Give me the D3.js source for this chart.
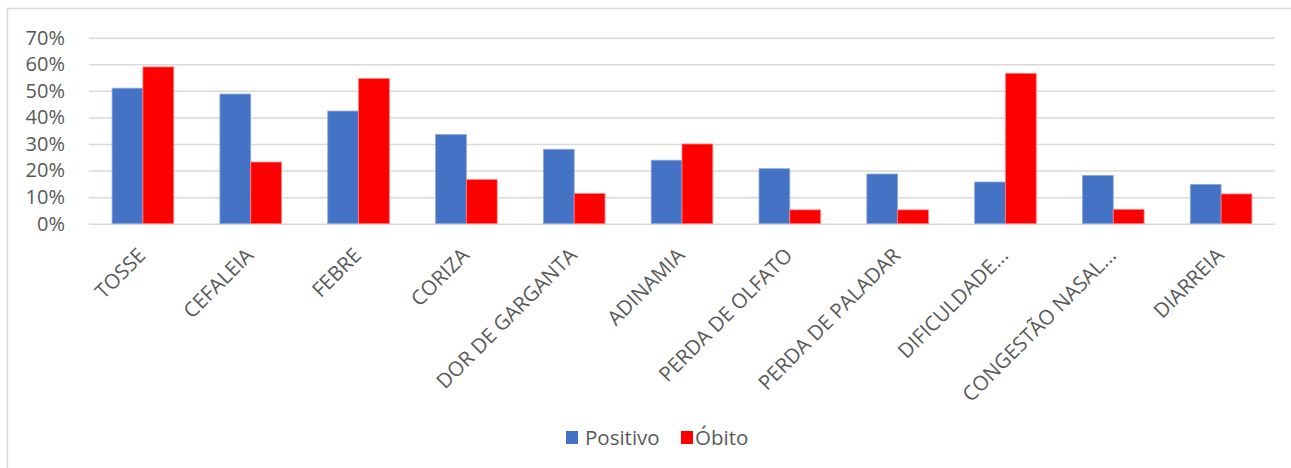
<!DOCTYPE html>
<html><head><meta charset="utf-8">
<script src="https://cdn.jsdelivr.net/npm/d3@7"></script>
<style>html,body{margin:0;padding:0;background:#fff;}svg{display:block;}</style>
</head><body>
<script>
const categories = ["TOSSE","CEFALEIA","FEBRE","CORIZA","DOR DE GARGANTA","ADINAMIA","PERDA DE OLFATO","PERDA DE PALADAR","DIFICULDADE...","CONGESTÃO NASAL...","DIARREIA"];
const positivo = [51.0,48.8,42.4,33.6,28.0,23.9,20.7,18.7,15.7,18.2,14.8];
const obito = [59.0,23.2,54.6,16.6,11.4,30.0,5.2,5.2,56.6,5.4,11.2];
const seriesNames = ["Positivo","Óbito"];
const seriesColors = ["#4472C4","#FF0000"];
const yTicks = [0,10,20,30,40,50,60,70];

(function(){
const W=1291,H=468;
const svg=d3.select("body").append("svg").attr("width",W).attr("height",H);
const font="'Open Sans', sans-serif";
svg.append("rect").attr("x",7.5).attr("y",8.5).attr("width",W).attr("height",H).attr("fill","#fff").attr("stroke","#d9d9d9").attr("stroke-width",1.5);

const pl=89,pr=1275,pt=37.7,pb=223.7;
const x=d3.scaleBand().domain(categories).range([pl,pr]).paddingInner(0.4285).paddingOuter(0.2143);
const y=d3.scaleLinear().domain([0,70]).range([pb,pt]);
const xs=d3.scaleBand().domain(seriesNames).range([0,x.bandwidth()]);

const yAxis=d3.axisLeft(y).tickValues(yTicks).tickFormat(d=>d+"%").tickSize(-(pr-pl)).tickPadding(24);
const gy=svg.append("g").attr("transform",`translate(${pl},0)`).call(yAxis);
gy.select(".domain").remove();
gy.selectAll(".tick line").attr("stroke","#d9d9d9").attr("stroke-width",1.5).attr("x1",0).attr("x2",pr-pl);
gy.selectAll(".tick text").attr("fill","#595959").style("font-family",font).style("font-size","20px");

const data=categories.map((c,i)=>({c,vals:[positivo[i],obito[i]]}));
const g=svg.append("g");
data.forEach(d=>{
  d.vals.forEach((v,j)=>{
    g.append("rect").attr("x",x(d.c)+xs(seriesNames[j])).attr("y",y(v)).attr("width",xs.bandwidth()).attr("height",y(0)-y(v))
     .attr("fill",seriesColors[j]).attr("stroke",j===0?"#8fa9dc":"#ff8080").attr("stroke-width",0.8);
  });
});

const xAxis=d3.axisBottom(x).tickSize(0).tickPadding(0);
const gx=svg.append("g").attr("transform",`translate(0,${pb})`).call(xAxis);
gx.select(".domain").remove();
gx.selectAll(".tick text").attr("fill","#595959").style("font-family",font).style("font-size","20.5px")
  .attr("text-anchor","end").attr("dy",0).attr("transform","translate(4,33) rotate(-45)").attr("y",0).attr("x",0);

const leg=svg.append("g").attr("transform","translate(566,431)");
const legX=[0,115];
seriesNames.forEach((s,i)=>{
  leg.append("rect").attr("x",legX[i]).attr("y",0).attr("width",12).attr("height",13).attr("fill",seriesColors[i]);
  leg.append("text").attr("x",legX[i]+(i===0?19:14)).attr("y",13.5).attr("fill","#595959").style("font-family",font).style("font-size","20.5px").text(s);
});
})();
</script>
</body></html>
